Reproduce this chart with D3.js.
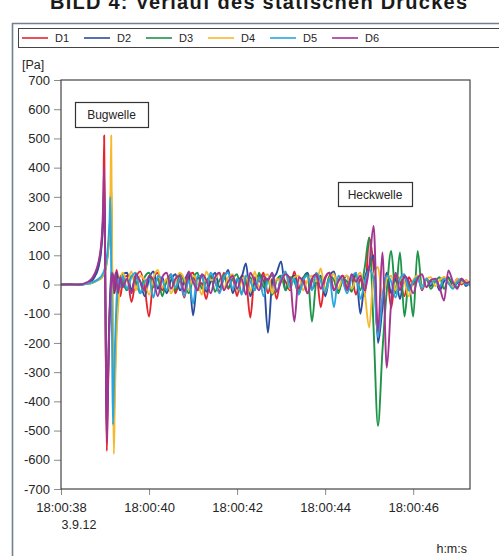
<!DOCTYPE html>
<html>
<head>
<meta charset="utf-8">
<script src="https://cdn.jsdelivr.net/npm/d3@7"></script>
<style>
  body { margin: 0; background: #fff; }
  svg { font-family: "Liberation Sans", Arial, sans-serif; }
</style>
</head>
<body>
<script>
// Zeitachse in Sekunden nach 18:00:00 (dichter um die Bugwelle)
const times = [38.0, 38.2, 38.4, 38.6, 38.7, 38.76, 38.8, 38.84, 38.88, 38.9, 38.92, 38.94, 38.96, 38.98, 39.0, 39.02, 39.04, 39.06, 39.08, 39.1, 39.12, 39.14, 39.16, 39.18, 39.2, 39.22, 39.24, 39.26, 39.3, 39.35, 39.4,
  39.5, 39.6, 39.7, 39.8, 39.9, 40.0, 40.1, 40.2, 40.3, 40.4,
  40.5, 40.6, 40.7, 40.8, 40.9, 41.0, 41.1, 41.2, 41.3, 41.4,
  41.5, 41.6, 41.7, 41.8, 41.9, 42.0, 42.1, 42.2, 42.3, 42.4,
  42.5, 42.6, 42.7, 42.8, 42.9, 43.0, 43.1, 43.2, 43.3, 43.4,
  43.5, 43.6, 43.7, 43.8, 43.9, 44.0, 44.1, 44.2, 44.3, 44.4,
  44.5, 44.6, 44.7, 44.8, 44.9, 45.0, 45.1, 45.2, 45.3, 45.4,
  45.5, 45.6, 45.7, 45.8, 45.9, 46.0, 46.1, 46.2, 46.3, 46.4,
  46.5, 46.6, 46.7, 46.8, 46.9, 47.0, 47.1, 47.2, 47.3];

const seriesNames = ["D1", "D2", "D3", "D4", "D5", "D6"];
const seriesColors = ["#e3262e", "#2b4c9e", "#1e9448", "#f6b92b", "#2aa6df", "#a33590"];

// Druck [Pa]
const d1 = [0, 0, -2, 5, 15, 30, 42, 60, 90, 110, 140, 180, 250, 510, 150, -280, -570, -430, -270, -140, -60, -10, 20, 35, 10, -30, 10, 50, 20, -40, 10,
  30, -60, 20, 45, -10, -110, 20, 40, -20, 10,
  35, -30, 15, -45, 25, 40, -20, 5, -50, 30,
  10, -25, 40, -15, 20, -40, 30, 15, -113, 25,
  10, 40, -30, 20, -50, 30, 10, -20, 45, -15,
  25, -30, 10, 35, -78, 20, 40, -20, 15, 30,
  -10, 25, -35, 20, -40, 160, 60, -168, -60, 40,
  -80, 30, 10, -40, 25, 0, 30, -20, 15, 10,
  20, -15, 25, 5, -10, 20, 0, 15, -5];
const d2 = [0, -1, 0, 4, 12, 25, 36, 52, 80, 100, 130, 170, 240, 340, 100, -260, -500, -380, -220, -100, -20, 30, 50, 10, -30, -10, 30, 40, -20, 20, 35,
  40, -20, 30, 10, -40, 20, 45, -15, 25, -30,
  15, 35, -20, 10, 40, -106, 20, 30, -25, 10,
  40, -10, 20, 50, -30, 15, 25, 72, -40, 10,
  30, 20, -165, 10, 40, 79, -20, 15, 30, -30,
  20, 40, -15, 10, 30, -40, 25, 45, -20, 15,
  30, -20, 40, -100, 20, 60, 100, -200, -80, 40,
  -30, 20, -50, 30, -20, 10, 25, -10, 20, -5,
  15, -20, 10, 25, -10, 5, 20, -5, 10];
const d3v = [0, 0, 0, 2, 5, 9, 12, 15, 18, 20, 23, 27, 32, 38, 46, 58, 75, 98, 130, 170, 240, 350, 80, -250, -460, -350, -230, -140, -40, 30, 10,
  -20, 30, 10, -30, 25, 40, -10, 20, -40, 15,
  25, -20, 35, 10, -30, 20, 40, -15, 10, 30,
  -25, 15, 30, -10, 20, 35, -30, 10, 25, -20,
  40, -10, 20, -35, 15, 30, -20, 25, 10, -30,
  20, 35, -127, 10, 25, -20, 30, 15, -30, 20,
  10, -25, 30, -20, 60, 160, -150, -484, -230, -20,
  115, -30, 110, -110, 10, -110, 115, -10, 20, -15,
  10, 25, -15, 20, 5, -10, 15, 0, 10];
const d4 = [0, 0, 1, 3, 6, 10, 13, 16, 19, 20, 24, 28, 34, 40, 50, 62, 80, 105, 140, 180, 260, 510, 100, -300, -580, -420, -280, -180, -70, 10, 40,
  10, 45, -20, 30, 15, -35, 25, 50, -10, 20,
  -30, 10, 40, 20, -20, 30, 10, -35, 45, 15,
  20, 40, -15, 25, 35, -20, 10, 30, -25, 45,
  -10, 25, 35, -30, 20, 10, 40, -15, 25, 30,
  -20, 15, 30, 10, 55, -25, 20, 35, -15, 25,
  30, -15, 20, 40, -30, -147, 30, 60, -40, 20,
  30, -20, 25, 10, -40, 15, 30, -10, 20, 25,
  -5, 15, 25, 10, -10, 20, 5, 15, 0];
const d5 = [0, 0, -1, 3, 7, 11, 14, 18, 22, 25, 29, 34, 40, 48, 58, 72, 92, 120, 160, 210, 300, 60, -200, -480, -360, -240, -140, -60, 20, -10, 30,
  -15, 25, 40, -30, 10, 20, -45, 30, 15, -20,
  35, -10, 20, -40, 15, -65, 30, 25, -15, 40,
  10, -30, 25, 40, -15, 20, -35, 30, 10, -20,
  25, -40, 15, 30, -25, 20, 45, -10, 20, -35,
  15, 30, -20, 40, 10, -25, 20, -78, 30, 10,
  -30, 20, 40, -50, 10, 50, 20, -180, -40, 30,
  10, -45, 20, 35, -20, 10, 25, -15, 20, 5,
  15, -10, 20, 5, -15, 10, 20, 0, 5];
const d6 = [0, 1, 0, 8, 20, 36, 50, 70, 100, 120, 150, 200, 280, 400, 120, -250, -540, -400, -240, -120, -40, 10, 40, 20, -20, 15, 40, 10, -30, 25, -10,
  20, -30, 35, 10, -20, 30, 15, -40, 25, 40,
  -15, 20, 30, -25, 45, 10, -20, 35, 15, -30,
  25, 40, -20, 10, 30, -15, 20, -35, 40, 10,
  -20, 30, 15, 40, -25, 10, 35, 20, -127, 25,
  10, -30, 20, 35, -15, 25, 40, -20, 10, 30,
  -20, 35, 10, 30, -20, 60, 200, -160, 110, -285,
  -60, 40, -20, 30, 10, -30, 20, 35, -10, 15,
  20, -10, -55, 48, 10, -15, 20, 5, 10];

const seriesValues = [d1, d2, d3v, d4, d5, d6];

const yTicks = [-700, -600, -500, -400, -300, -200, -100, 0, 100, 200, 300, 400, 500, 600, 700];
const xTicks = [38, 40, 42, 44, 46];
const xTickLabels = ["18:00:38", "18:00:40", "18:00:42", "18:00:44", "18:00:46"];

const width = 499, height = 556;
const textColor = "#262626";

const svg = d3.select("body").append("svg")
    .attr("width", width)
    .attr("height", height);

const x = d3.scaleLinear().domain([38, 47.29]).range([61, 470]);
const y = d3.scaleLinear().domain([-700, 700]).range([489, 80]);

// Titel (oben abgeschnitten wie im Original)
svg.append("text")
    .attr("x", 50)
    .attr("y", 9)
    .attr("textLength", 417)
    .style("font-size", "20px")
    .style("font-weight", "bold")
    .style("fill", "#1a1a1a")
    .text("BILD 4: Verlauf des statischen Druckes");

// Rahmen
svg.append("line").attr("x1", 12.5).attr("x2", 12.5).attr("y1", 23).attr("y2", height)
    .style("stroke", "#6f8190").style("stroke-width", 1.6);
svg.append("line").attr("x1", 12).attr("x2", width).attr("y1", 23.5).attr("y2", 23.5)
    .style("stroke", "#6f8190").style("stroke-width", 1.6);

// Legende
svg.append("rect")
    .attr("x", 18.5).attr("y", 28.5)
    .attr("width", 490).attr("height", 19)
    .style("fill", "none").style("stroke", "#444").style("stroke-width", 1);

const legendX = d3.scalePoint().domain(seriesNames).range([22, 332]);

const legend = svg.append("g").selectAll("g")
    .data(seriesNames)
    .join("g")
    .attr("transform", d => `translate(${legendX(d)},38)`);

legend.append("line")
    .attr("x1", 0).attr("x2", 26)
    .style("stroke", (d, i) => seriesColors[i])
    .style("stroke-width", 1.6);

legend.append("text")
    .attr("x", 33).attr("y", 4)
    .style("font-size", "11px")
    .style("fill", textColor)
    .text(d => d);

// Achsen
const yAxis = svg.append("g")
    .attr("transform", "translate(61,0)")
    .call(d3.axisLeft(y).tickValues(yTicks).tickSize(7).tickPadding(4).tickFormat(d => String(d)));

const xAxis = svg.append("g")
    .attr("transform", "translate(0,489)")
    .call(d3.axisBottom(x).tickValues(xTicks).tickSize(6).tickPadding(8).tickFormat((d, i) => xTickLabels[i]));

[yAxis, xAxis].forEach(a => {
    a.select(".domain").remove();
    a.selectAll(".tick line").style("stroke", "#8a8a8a");
    a.selectAll(".tick text").style("font-size", "13px").style("fill", textColor).style("font-family", "Liberation Sans, Arial, sans-serif");
});

svg.append("text")
    .attr("x", 22).attr("y", 69)
    .style("font-size", "12.5px").style("fill", textColor)
    .text("[Pa]");

svg.append("text")
    .attr("x", x(38) + 18).attr("y", 529)
    .attr("text-anchor", "middle")
    .style("font-size", "12.5px").style("fill", textColor)
    .text("3.9.12");

svg.append("text")
    .attr("x", 467).attr("y", 553)
    .attr("text-anchor", "end")
    .style("font-size", "12.5px").style("fill", textColor)
    .text("h:m:s");

// Linien
svg.append("clipPath").attr("id", "plot-clip")
    .append("rect")
    .attr("x", 61).attr("y", 80)
    .attr("width", 409).attr("height", 409);

const line = d3.line()
    .x((d, i) => x(times[i]))
    .y(d => y(d))
    .curve(d3.curveMonotoneX);

svg.append("g")
    .attr("clip-path", "url(#plot-clip)")
    .selectAll("path")
    .data(seriesValues)
    .join("path")
    .attr("d", line)
    .style("fill", "none")
    .style("stroke", (d, i) => seriesColors[i])
    .style("stroke-width", 1.9)
    .style("stroke-linejoin", "round");

// Diagrammrahmen
svg.append("rect")
    .attr("x", 61).attr("y", 80)
    .attr("width", 409).attr("height", 409)
    .style("fill", "none").style("stroke", "#444").style("stroke-width", 1.2);

// Beschriftungskästen
const notes = [
    { text: "Bugwelle", x: 75, y: 102, w: 73, h: 25 },
    { text: "Heckwelle", x: 338, y: 182, w: 74, h: 24 }
];

const note = svg.append("g").selectAll("g")
    .data(notes)
    .join("g");

note.append("rect")
    .attr("x", d => d.x + 0.5).attr("y", d => d.y + 0.5)
    .attr("width", d => d.w).attr("height", d => d.h)
    .style("fill", "#fff").style("stroke", "#333").style("stroke-width", 1.2);

note.append("text")
    .attr("x", d => d.x + d.w / 2).attr("y", d => d.y + d.h / 2 + 4.5)
    .attr("text-anchor", "middle")
    .style("font-size", "12px").style("fill", textColor)
    .text(d => d.text);
</script>
</body>
</html>
